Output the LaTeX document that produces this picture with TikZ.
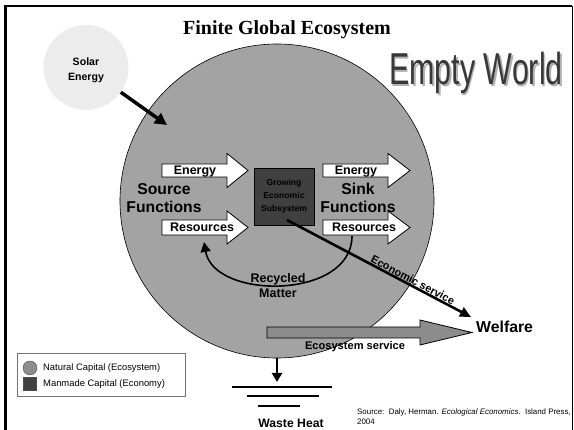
\documentclass[tikz,border=0pt]{standalone}
\usepackage{fontspec}
\setmainfont{Liberation Sans}
\newfontfamily\titleserif{Liberation Serif}
\usetikzlibrary{arrows.meta}

\definecolor{earthgray}{gray}{0.64}
\definecolor{sungray}{gray}{0.925}
\definecolor{econgray}{gray}{0.25}
\definecolor{servgray}{gray}{0.55}

% block arrow: from x, tip x, y, head length, body half, head half, fill
\newcommand{\blockarrow}[7]{%
  \draw[line width=0.8pt,fill=#7] (#1,#3-#5) -- (#2-#4,#3-#5) -- (#2-#4,#3-#6)
    -- (#2,#3) -- (#2-#4,#3+#6) -- (#2-#4,#3+#5) -- (#1,#3+#5) -- cycle;}

\begin{document}
\begin{tikzpicture}[x=1pt,y=-1pt,>={Triangle[length=11pt,width=10pt]},
    lbl/.style={font=\bfseries\fontsize{12.5}{15}\selectfont,anchor=base,inner sep=0pt},
    func/.style={font=\bfseries\fontsize{15.7}{18.5}\selectfont,align=center,inner sep=0pt},
    legtxt/.style={font=\fontsize{9.4}{11}\selectfont,anchor=west,inner sep=0pt}]
  \useasboundingbox (0,0) rectangle (574,430);
  % frame
  \draw[line width=2.6pt] (5.5,430) -- (5.5,6) -- (572,6);
  \draw[line width=0.9pt] (572,6) -- (572,430);

  \node[font=\titleserif\bfseries\fontsize{20}{24}\selectfont,anchor=base] (title) at (287,35) {Finite Global Ecosystem};
  % empty world with shadow
  \node[font=\fontsize{44.7}{50}\selectfont,xscale=0.68,anchor=base,text=black!30] (worldshadow) at (477.5,86.5) {Empty World};
  \node[font=\fontsize{44.7}{50}\selectfont,xscale=0.68,anchor=base,text=black!78] (world) at (476,85) {Empty World};

  % earth
  \node[circle,draw,line width=0.6pt,fill=earthgray,minimum size=314pt,inner sep=0pt] (earth) at (277,201) {};
  % sun
  \node[circle,fill=sungray,minimum size=85pt,inner sep=0pt] (solar) at (86,67.5) {};
  \node[font=\bfseries\fontsize{10.6}{15}\selectfont,align=center,inner sep=0pt] (solarlbl) at (86,70) {Solar\\Energy};
  \coordinate (sunhit) at (167,125);
  \draw[line width=3.5pt,-{Triangle[length=12pt,width=12pt]}] (solar) -- (sunhit);

  % source and sink flows
  \blockarrow{162}{248}{170.5}{21}{6.5}{17}{white}
  \blockarrow{162}{248}{227.5}{21}{7.5}{16.5}{white}
  \blockarrow{323}{410}{170.5}{22}{6.5}{17}{white}
  \blockarrow{323}{410}{227.5}{22}{7.5}{16.5}{white}
  \node[lbl] (srcenergy) at (195,175) {Energy};
  \node[lbl] (srcres) at (202,232) {Resources};
  \node[lbl] (snkenergy) at (356,175) {Energy};
  \node[lbl] (snkres) at (364,232) {Resources};
  \node[func] (source) at (164,198) {Source\\Functions};
  \node[func] (sink) at (358,198) {Sink\\Functions};

  % economy
  \node[draw,line width=0.8pt,fill=econgray,minimum width=60pt,minimum height=57pt,inner sep=0pt,
        align=center,text=black,font=\bfseries\fontsize{8.6}{13}\selectfont] (econ) at (284,196.5) {Growing\\Economic\\Subsystem};
  \coordinate (econout) at (287,220);
  \coordinate (welfaretip) at (471,317);
  \draw[line width=2.6pt,->] (econout) -- (welfaretip)
    node[pos=0.67,sloped,above,inner sep=0.5pt,font=\bfseries\fontsize{10.9}{13}\selectfont] (econserv) {Economic service};

  % recycling
  \coordinate (recstart) at (352,236);
  \coordinate (recend) at (204,242);
  \draw[line width=1.6pt,-{Triangle[length=10pt,width=10pt]}] (recstart) .. controls (352,300) and (214,300) .. (recend);
  \node[font=\bfseries\fontsize{12.5}{15}\selectfont,align=center,inner sep=0pt] (recycled) at (278,286) {Recycled\\Matter};

  % ecosystem service
  \blockarrow{267}{472}{332.5}{52}{5.5}{12.5}{servgray}
  \node[font=\bfseries\fontsize{11.1}{13}\selectfont,anchor=base,inner sep=0pt] (ecoserv) at (355,350) {Ecosystem service};
  \node[font=\bfseries\fontsize{15.8}{19}\selectfont,anchor=base west,inner sep=0pt] (welfare) at (476,333) {Welfare};

  % waste heat
  \coordinate (heattip) at (277,382);
  \draw[line width=2.4pt,-{Triangle[length=9pt,width=10pt]}] (earth.south) -- (heattip);
  \foreach \cx/\hw/\yy in {282/50/387,283/36/396,279/21/406}
    \draw[line width=2.8pt] (\cx-\hw,\yy) -- (\cx+\hw,\yy);
  \node[font=\bfseries\fontsize{12.2}{15}\selectfont,anchor=base,inner sep=0pt] (waste) at (291,428) {Waste Heat};

  % legend
  \node[draw=black!55,fill=white,minimum width=168pt,minimum height=43pt,inner sep=0pt] (legend) at (101,374.5) {};
  \node[circle,draw=black!70,fill=black!45,minimum size=14pt,inner sep=0pt] (natdot) at (30,368) {};
  \node[draw=black!70,fill=econgray,minimum size=13pt,inner sep=0pt] (mandot) at (29.5,384) {};
  \node[legtxt] (natlbl) at (43,368) {Natural Capital (Ecosystem)};
  \node[legtxt] (manlbl) at (43,384) {Manmade Capital (Economy)};

  % source
  \node[font=\fontsize{7.9}{9.5}\selectfont,align=left,anchor=north west,inner sep=0pt] (cite) at (357,409) {Source:\ \ Daly, Herman. \textit{Ecological Economics}.\ \ Island Press,\\2004};
\end{tikzpicture}
\end{document}
